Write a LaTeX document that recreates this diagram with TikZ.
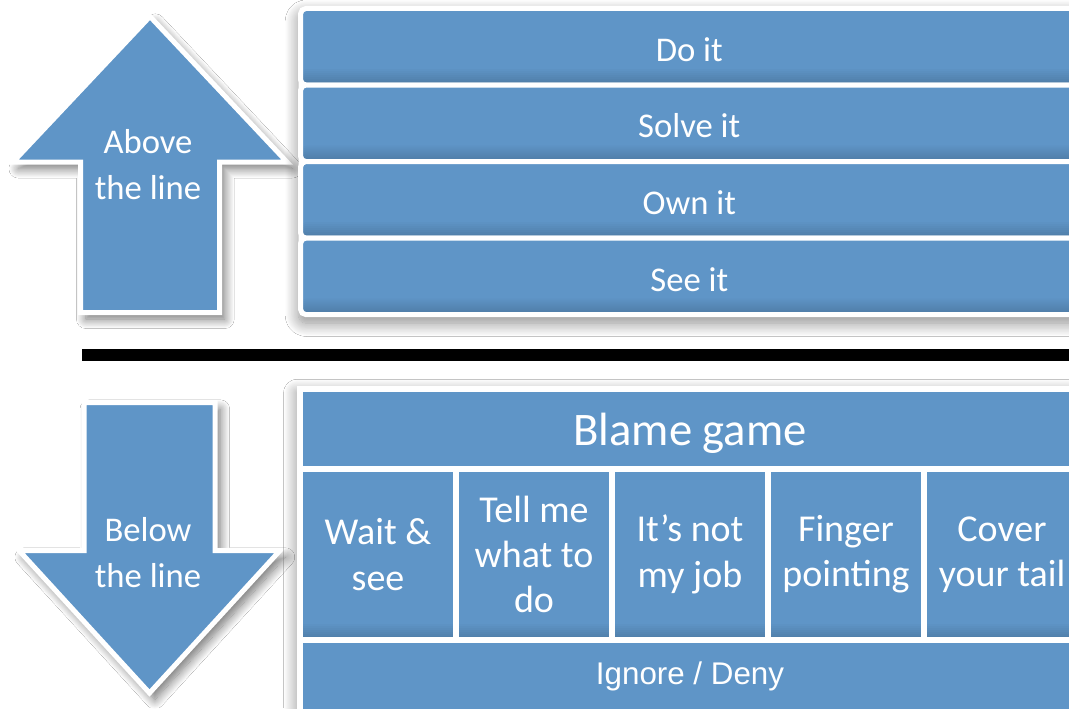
\documentclass[tikz,border=0pt]{standalone}
\usepackage{fontspec}
\setmainfont{Carlito}
\newfontfamily\arialfont{Liberation Sans}
\usetikzlibrary{positioning, shadows.blur}

\definecolor{boxblue}{HTML}{5F95C7}

\begin{document}
\begin{tikzpicture}[x=0.75pt, y=-0.75pt,
  panelshadow/.style={blur shadow={shadow xshift=0pt, shadow yshift=-5pt,
      shadow blur radius=10pt, shadow blur steps=16, shadow opacity=45}},
  arrowshape/.style={fill=boxblue, draw=white, line width=3.75pt, line join=miter,
      blur shadow={shadow xshift=4pt, shadow yshift=-5pt,
      shadow blur radius=7pt, shadow blur steps=14, shadow opacity=55}},
  arrowtext/.style={text=white, align=center, font=\fontsize{26}{34}\selectfont},
  % darker towards the bottom edge, in thin steps
  bottomshade/.style={path picture={
      \foreach \h in {1.5,3,...,12}
        \fill[black, opacity=0.02] (path picture bounding box.south west)
          rectangle ([yshift=\h pt]path picture bounding box.south east);}},
  topbar/.style={fill=boxblue, draw=white, line width=3.75pt, rounded corners=4pt,
      minimum width=583pt, minimum height=57.4pt, inner sep=0pt, outer sep=0pt,
      text=white, font=\fontsize{26}{30}\selectfont, text height=22pt, text depth=0pt,
      bottomshade},
  lowbar/.style={fill=boxblue, draw=white, line width=4.5pt, inner sep=0pt, outer sep=0pt,
      minimum width=585pt, text=white},
  cell/.style={fill=boxblue, draw=white, line width=4.5pt, inner sep=0pt, outer sep=0pt,
      minimum width=117pt, minimum height=128.25pt, text=white, align=center,
      font=\fontsize{28.5}{34}\selectfont, bottomshade}
]
  \useasboundingbox (0,0) rectangle (1069,708);
  \fill[white] (0,0) rectangle (1069,708);

% the two arrows
  \draw[arrowshape] (150,16.5) -- (287,162) -- (219.5,162) -- (219.5,312.5)
    -- (80.5,312.5) -- (80.5,162) -- (13,162) -- cycle;
  \node[arrowtext] (above) at (148,164.5) {Above\\the line};

  \draw[arrowshape] (84,402.5) -- (215,402.5) -- (215,550.5) -- (280,550.5)
    -- (149.5,693) -- (19,550.5) -- (84,550.5) -- cycle;
  \node[arrowtext] (below) at (148,552.5) {Below\\the line};

% the line itself
  \coordinate (line west) at (82,355);
  \coordinate (line east) at (1069,355);
  \draw[line width=9pt] (line west) -- (line east);

% upper stack
  \fill[white, rounded corners=6pt, panelshadow] (298.5,6.5) rectangle (1080,316.5);
  \node[topbar] (doit) at (689.25,46.75) {Do it};
  \node[topbar, below=0pt of doit] (solveit) {Solve it};
  \node[topbar, below=0pt of solveit] (ownit) {Own it};
  \node[topbar, below=0pt of ownit] (seeit) {See it};

% lower block
  \fill[white, panelshadow] (297,386) rectangle (1083,720);
  \node[lowbar, minimum height=60pt, font=\fontsize{35}{40}\selectfont,
        text height=24.4pt, text depth=0pt] (blame) at (690,429) {Blame game};
  \node[cell, below right=0pt and 0pt of blame.south west] (waitsee) {Wait \&\\see};
  \node[cell, right=0pt of waitsee] (tellme) {Tell me\\what to\\do};
  \node[cell, right=0pt of tellme] (notmyjob) {It’s not\\my job};
  \node[cell, right=0pt of notmyjob] (finger) {Finger\\pointing};
  \node[cell, right=0pt of finger] (covertail) {Cover\\your tail};
  \node[lowbar, minimum height=54pt, font=\arialfont\fontsize{23.5}{28}\selectfont,
        text height=16.8pt, text depth=4pt,
        below right=0pt and 0pt of waitsee.south west] (ignore) {Ignore / Deny};
\end{tikzpicture}
\end{document}
